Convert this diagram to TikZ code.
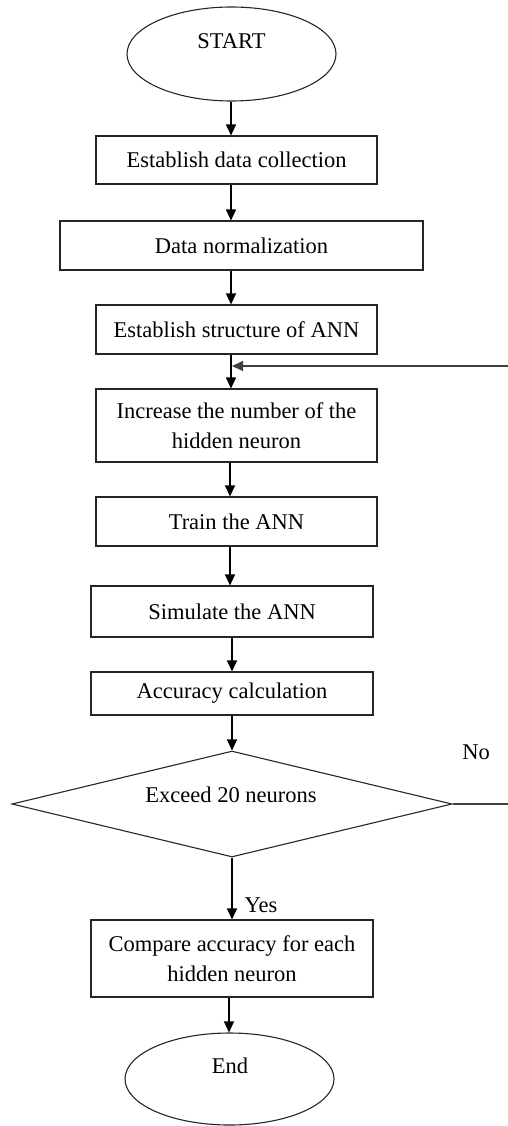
\documentclass[tikz,border=0pt]{standalone}
\usepackage{fontspec}
\setmainfont{Liberation Serif}
\usetikzlibrary{shapes.geometric,arrows.meta,calc}
\begin{document}
\begin{tikzpicture}[x=1pt,y=-1pt,
  font=\fontsize{22.5}{30}\selectfont,
  line/.style={draw=black!85,line width=1.1pt},
  box/.style={rectangle,line,inner sep=0pt,align=center},
  oval/.style={ellipse,line,inner sep=0pt},
  arr/.style={draw=black,line width=1.2pt,-{Triangle[length=11pt,width=10pt]}},
  txt/.style={inner sep=0pt,align=center}]
\useasboundingbox (0,0) rectangle (508,1126);
% spine coordinates
\coordinate (xa) at (231,0);
\coordinate (xb) at (230,0);
\coordinate (xc) at (232,0);
\coordinate (xd) at (229,0);
% shapes
\node[oval,minimum width=209pt,minimum height=94pt] (start) at (231.5,54) {};
\node[txt] (starttxt) at (231.5,41) {START};
\node[box,minimum width=281pt,minimum height=48pt] (b1) at (236.5,160) {Establish data collection};
\node[box,minimum width=363pt,minimum height=49pt] (b2) at (241.5,245.5) {Data normalization};
\node[box,minimum width=281pt,minimum height=49pt] (b3) at (236.5,329.5) {Establish structure of ANN};
\node[box,minimum width=281pt,minimum height=73pt] (b4) at (236.5,425.5) {Increase the number of the\\hidden neuron};
\node[box,minimum width=281pt,minimum height=49pt] (b5) at (236.5,521.5) {Train the ANN};
\node[box,minimum width=282pt,minimum height=51pt] (b6) at (232,611.5) {Simulate the ANN};
\node[box,minimum width=282pt,minimum height=43pt] (b7) at (232,693.5) {Accuracy calculation};
\node[diamond,line,inner sep=0pt,shape aspect=4.15,minimum width=440pt,minimum height=106pt] (dec) at (232,804) {};
\node[txt] (dectxt) at (231,795) {Exceed 20 neurons};
\node[box,minimum width=282pt,minimum height=77pt] (b8) at (232,958.5) {Compare accuracy for each\\hidden neuron};
\node[oval,minimum width=209pt,minimum height=92pt] (end) at (229.5,1079) {};
\node[txt] (endtxt) at (230,1066) {End};
% labels
\node[txt] (no) at (476,752) {No};
\node[txt] (yes) at (261,905) {Yes};
% connectors
\draw[arr] (start.south -| xa) -- (b1.north -| xa);
\draw[arr] (b1.south -| xa) -- (b2.north -| xa);
\draw[arr] (b2.south -| xa) -- (b3.north -| xa);
\draw[arr] (b3.south -| xa) -- (b4.north -| xa);
\draw[arr] (b4.south -| xb) -- (b5.north -| xb);
\draw[arr] (b5.south -| xb) -- (b6.north -| xb);
\draw[arr] (b6.south -| xc) -- (b7.north -| xc);
\draw[arr] (b7.south -| xc) -- (dec.north -| xc);
\draw[arr] (dec.south -| xc) -- (b8.north -| xc);
\draw[arr] (b8.south -| xd) -- (end.north -| xd);
% feedback loop (vertical part lies just outside the page)
\coordinate (fbR) at (515,804);
\coordinate (fbT) at (515,366);
\draw[line,draw=black!75,line width=1.3pt] (dec.east) -- (fbR);
\draw[arr,draw=black!75,line width=1.3pt] (fbR) -- (fbT) -- ($(fbT -| xa)+(1,0)$);
\end{tikzpicture}
\end{document}
